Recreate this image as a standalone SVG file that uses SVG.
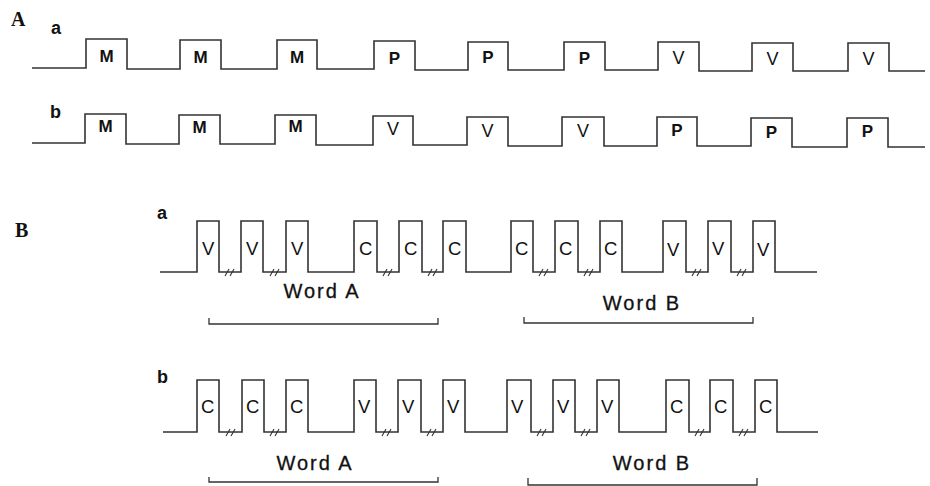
<svg xmlns="http://www.w3.org/2000/svg" width="930" height="486" viewBox="0 0 930 486">
<style>
.w{fill:none;stroke:#333;stroke-width:1.6;stroke-linejoin:miter}
.br{fill:none;stroke:#333;stroke-width:1.3}
.h{fill:none;stroke:#333;stroke-width:1.1}
.pan{font-family:"Liberation Serif",serif;font-weight:bold;font-size:20px;fill:#111}
.sub{font-family:"Liberation Sans",Arial,sans-serif;font-weight:bold;font-size:18px;fill:#111}
.la{font-family:"Liberation Sans",Arial,sans-serif;font-weight:bold;font-size:17px;fill:#111;text-anchor:middle}
.lv{font-family:"Liberation Sans",Arial,sans-serif;font-size:18px;fill:#111;text-anchor:middle}
.lb{font-family:"Liberation Sans",Arial,sans-serif;font-size:18.5px;fill:#111}
.wd{font-family:"Liberation Sans",Arial,sans-serif;font-size:20px;letter-spacing:2px;fill:#111;text-anchor:middle;stroke:#111;stroke-width:0.3}
</style>
<defs>
<path id="hash" class="h" d="M-5,4 L-1,-3 M0,4 L4,-3"/>
</defs>
<rect width="930" height="486" fill="#fff"/>
<g id="panel-labels">
<text class="pan" x="11" y="26">A</text>
<text class="pan" x="15" y="237">B</text>
<text class="sub" x="51" y="34">a</text>
<text class="sub" x="50" y="118">b</text>
<text class="sub" x="157" y="219" font-size="17">a</text>
<text class="sub" x="157" y="383" font-size="17">b</text>
</g>
<g id="connectors">
<path id="wave-Aa" class="w" d="M32,68 H86 V39 H127 V69 H180 V40 H221 V69 H277 V40 H317 V69 H374 V41 H415 V70 H468 V42 H508 V70 H564 V42 H605 V70 H658 V42 H699 V71 H752 V43 H793 V71 H848 V43 H889 V71 H925"/>
<path id="wave-Ab" class="w" d="M32,143 H85 V114 H126 V144 H179 V115 H220 V144 H275 V115 H316 V145 H373 V116 H413 V145 H467 V117 H508 V146 H562 V117 H604 V146 H657 V117 H697 V146 H751 V118 H792 V147 H847 V118 H888 V147 H925"/>
<path id="wave-Ba" class="w" d="M160,272 H197 V221 H219 V272 H241 V221 H263 V272 H286 V221 H308 V272 H354 V221 H377 V272 H399 V221 H422 V272 H443 V221 H466 V272 H511 V221 H533 V272 H555 V221 H578 V272 H600 V221 H622 V272 H663 V221 H686 V272 H708 V221 H731 V272 H753 V221 H775 V272 H817"/>
<path id="wave-Bb" class="w" d="M163,432 H197 V380 H219 V432 H242 V380 H264 V432 H286 V380 H308 V432 H354 V380 H376 V432 H398 V380 H421 V432 H443 V380 H465 V432 H507 V380 H531 V432 H553 V380 H575 V432 H597 V380 H619 V432 H666 V380 H689 V432 H710 V380 H733 V432 H755 V380 H777 V432 H818"/>
<g id="hashes">
<use href="#hash" x="230" y="272"/><use href="#hash" x="275" y="272"/><use href="#hash" x="388" y="272"/><use href="#hash" x="433" y="272"/>
<use href="#hash" x="544" y="272"/><use href="#hash" x="589" y="272"/><use href="#hash" x="697" y="272"/><use href="#hash" x="742" y="272"/>
<use href="#hash" x="231" y="432"/><use href="#hash" x="275" y="432"/><use href="#hash" x="387" y="432"/><use href="#hash" x="432" y="432"/>
<use href="#hash" x="542" y="432"/><use href="#hash" x="586" y="432"/><use href="#hash" x="700" y="432"/><use href="#hash" x="744" y="432"/>
</g>
<path id="bracket-Ba-A" class="br" d="M209,318 V324 H438 V318"/>
<path id="bracket-Ba-B" class="br" d="M524,317 V323 H753 V317"/>
<path id="bracket-Bb-A" class="br" d="M209,477 V482 H438 V477"/>
<path id="bracket-Bb-B" class="br" d="M528,478 V485 H757 V478"/>
</g>
<g id="row-Aa">
<text class="la" x="106.5" y="62">M</text>
<text class="la" x="200.5" y="63">M</text>
<text class="la" x="297" y="63">M</text>
<text class="la" x="394.5" y="64">P</text>
<text class="la" x="488" y="63">P</text>
<text class="la" x="584.5" y="64">P</text>
<text class="lv" x="678.5" y="64">V</text>
<text class="lv" x="772.5" y="65">V</text>
<text class="lv" x="868.5" y="65">V</text>
</g>
<g id="row-Ab">
<text class="la" x="105.5" y="132">M</text>
<text class="la" x="199.5" y="133">M</text>
<text class="la" x="295.5" y="132">M</text>
<text class="lv" x="393" y="135">V</text>
<text class="lv" x="487.5" y="137">V</text>
<text class="lv" x="583" y="137">V</text>
<text class="la" x="677" y="136">P</text>
<text class="la" x="771.5" y="138">P</text>
<text class="la" x="867.5" y="137">P</text>
</g>
<g id="row-Ba">
<text class="lb" x="202" y="255">V</text>
<text class="lb" x="246" y="255">V</text>
<text class="lb" x="291" y="255">V</text>
<text class="lb" x="359" y="255">C</text>
<text class="lb" x="404" y="255">C</text>
<text class="lb" x="448" y="255">C</text>
<text class="lb" x="515" y="255">C</text>
<text class="lb" x="559" y="255">C</text>
<text class="lb" x="604" y="255">C</text>
<text class="lb" x="667" y="256">V</text>
<text class="lb" x="712" y="255">V</text>
<text class="lb" x="757" y="256">V</text>
</g>
<g id="row-Bb">
<text class="lb" x="201" y="413">C</text>
<text class="lb" x="246" y="413">C</text>
<text class="lb" x="290" y="413">C</text>
<text class="lb" x="358" y="413">V</text>
<text class="lb" x="402" y="413">V</text>
<text class="lb" x="447" y="413">V</text>
<text class="lb" x="511" y="413">V</text>
<text class="lb" x="557" y="413">V</text>
<text class="lb" x="601" y="413">V</text>
<text class="lb" x="670" y="413">C</text>
<text class="lb" x="714" y="413">C</text>
<text class="lb" x="759" y="413">C</text>
</g>
<g id="word-labels">
<text class="wd" x="322" y="298">Word A</text>
<text class="wd" x="642" y="310">Word B</text>
<text class="wd" x="315" y="470">Word A</text>
<text class="wd" x="652" y="470">Word B</text>
</g>
</svg>
